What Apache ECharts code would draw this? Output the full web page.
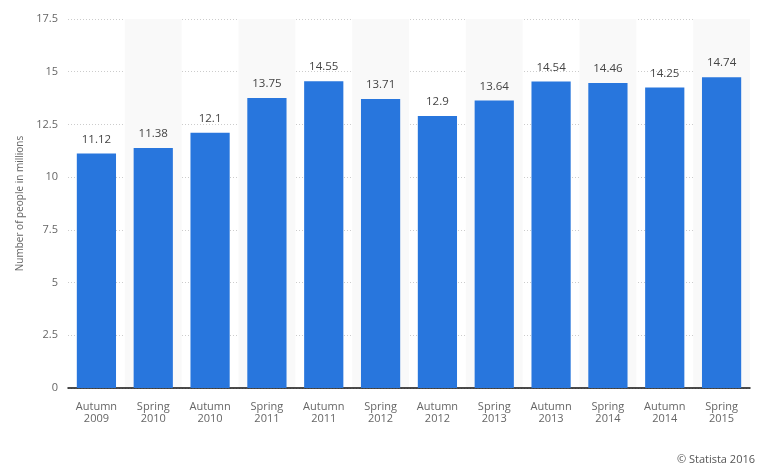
<!DOCTYPE html>
<html><head><meta charset="utf-8">
<script src="https://cdn.jsdelivr.net/npm/echarts@6/dist/echarts.min.js"></script>
<style>html,body{margin:0;padding:0;background:#fff}#c{width:768px;height:472px}</style>
</head><body><div id="c"></div>
<script>
var categories = ['Autumn\n2009','Spring\n2010','Autumn\n2010','Spring\n2011','Autumn\n2011','Spring\n2012','Autumn\n2012','Spring\n2013','Autumn\n2013','Spring\n2014','Autumn\n2014','Spring\n2015'];
var values = [11.12,11.38,12.1,13.75,14.55,13.71,12.9,13.64,14.54,14.46,14.25,14.74];
var valueLabels = ['11.12','11.38','12.1','13.75','14.55','13.71','12.9','13.64','14.54','14.46','14.25','14.74'];
var yTicks = ['0','2.5','5','7.5','10','12.5','15','17.5'];
var yAxisTitle = 'Number of people in millions';
var credit = '© Statista 2016';

var chart = echarts.init(document.getElementById('c'), null, {renderer:'canvas'});
chart.setOption({
  animation:false,
  textStyle:{fontFamily:'Open Sans'},
  grid:{left:68,right:18,top:19,bottom:84,containLabel:false},
  graphic:[{type:'text',right:13,bottom:7,style:{text:credit,fill:'#555',font:'11px "Open Sans"'}}],
  xAxis:{type:'category',data:categories,
    axisLine:{lineStyle:{color:'#111',width:1.5}},
    axisTick:{show:false},
    axisLabel:{color:'#666',fontSize:11,lineHeight:12,margin:13},
    splitArea:{show:true,areaStyle:{color:['rgba(0,0,0,0)','#f9f9f9']}}
  },
  yAxis:{type:'value',min:0,max:17.5,interval:2.5,
    name:yAxisTitle,nameLocation:'middle',nameGap:40,
    nameTextStyle:{color:'#666',fontSize:10},
    axisLine:{show:false},axisTick:{show:false},
    axisLabel:{color:'#666',fontSize:11,margin:10,formatter:function(v){return yTicks[Math.round(v/2.5)];}},
    splitLine:{lineStyle:{color:'#ccc',type:[1,2]}}
  },
  series:[{type:'bar',data:values,barCategoryGap:'31%',
    itemStyle:{color:'#2876dd'},
    label:{show:true,position:'top',distance:8,color:'#444',fontSize:11.5,
      formatter:function(p){return valueLabels[p.dataIndex];}}
  }]
});
</script></body></html>
